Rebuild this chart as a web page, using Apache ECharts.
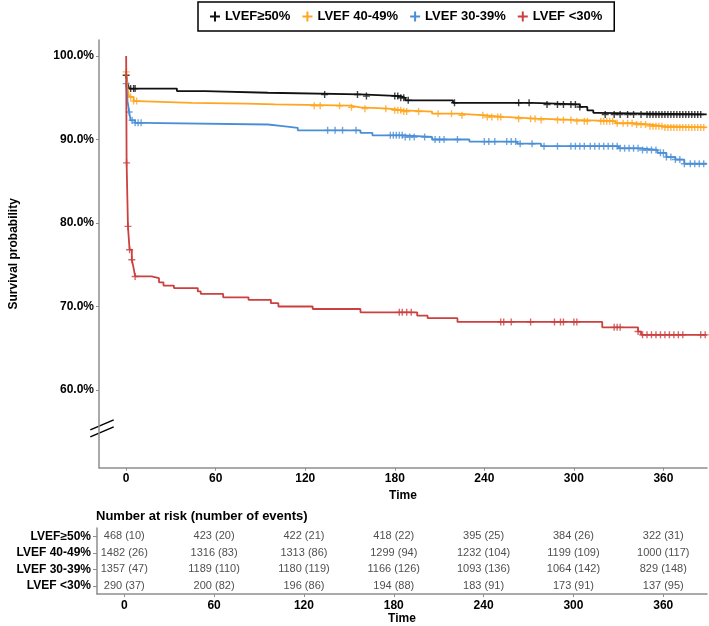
<!DOCTYPE html>
<html><head><meta charset="utf-8">
<script src="https://cdn.jsdelivr.net/npm/echarts@6/dist/echarts.min.js"></script>
<style>html,body{margin:0;padding:0;background:#fff}#c{width:709px;height:626px}</style>
</head><body><div id="c"></div>
<script>
// ---------- data ----------
const groups = ['LVEF≥50%', 'LVEF 40-49%', 'LVEF 30-39%', 'LVEF <30%'];
const colors = ['#111111', '#FFA51F', '#4A8FD6', '#CC4040'];
const xTicks = [0, 60, 120, 180, 240, 300, 360];
const yTicks = [60, 70, 80, 90, 100];
const endTime = 389;

// Kaplan-Meier step points (time in days, survival %)
const t50 = [0, 1, 2, 34, 53, 95, 157, 184, 187, 219, 272, 304, 309, 313, 316];
const s50 = [97.7, 96.6, 96.1, 95.8, 95.6, 95.4, 95.2, 95.0, 94.7, 94.4, 94.2, 93.9, 93.5, 93.2, 93.0];
const t40 = [0, 1, 2, 5, 8, 44, 80, 100, 150, 157, 176, 186, 205, 222, 241, 253, 275, 300, 328, 340, 350, 360];
const s40 = [98.1, 96.0, 95.1, 94.6, 94.4, 94.3, 94.2, 94.05, 93.85, 93.7, 93.5, 93.35, 93.1, 92.9, 92.7, 92.5, 92.35, 92.2, 91.95, 91.8, 91.6, 91.45];
const t30 = [0, 1, 2, 3, 6, 11, 95, 105, 115, 157, 165, 186, 205, 230, 262, 278, 330, 345, 356, 362, 368, 374];
const s30 = [96.7, 94.5, 93.3, 92.3, 92.0, 91.8, 91.6, 91.4, 91.1, 90.8, 90.5, 90.3, 90.0, 89.75, 89.5, 89.2, 88.95, 88.75, 88.4, 87.9, 87.6, 87.1];
const tLow = [0, 0.3, 1.2, 2.3, 3.8, 5, 6, 17, 22, 25, 32, 48, 50, 65, 82, 97, 102, 125, 157, 195, 202, 222, 319, 343, 345];
const sLow = [100, 87.2, 79.6, 76.8, 75.6, 74.6, 73.6, 73.4, 72.9, 72.5, 72.2, 71.8, 71.5, 71.1, 70.8, 70.4, 70.0, 69.7, 69.3, 68.9, 68.6, 68.15, 67.5, 67.0, 66.6];

// censoring times
const c50 = [0, 3, 5, 6, 133, 155, 161, 180, 182, 184, 186, 189, 220, 263, 270, 282, 289, 293, 298, 301, 304, 321, 327, 331, 336, 340, 345, 349, 351, 353, 355, 357, 359, 361, 363, 365, 367, 369, 371, 373, 375, 377, 379, 381, 383, 385];
const c40 = [0, 3, 5, 7, 126, 130, 143, 151, 160, 174, 180, 182, 184, 186, 188, 196, 209, 218, 225, 239, 242, 245, 249, 251, 263, 271, 274, 278, 289, 293, 298, 302, 307, 309, 318, 320, 322, 324, 326, 329, 333, 336, 339, 342, 345, 348, 351, 353, 355, 357, 359, 361, 363, 365, 367, 369, 371, 373, 375, 377, 379, 381, 383, 385, 387];
const c30 = [0, 2, 4, 6, 8, 10, 135, 140, 145, 154, 177, 179, 181, 183, 185, 187, 190, 193, 200, 207, 210, 213, 222, 240, 243, 247, 255, 258, 261, 264, 272, 280, 289, 298, 301, 304, 307, 311, 314, 317, 320, 323, 326, 329, 331, 334, 337, 340, 343, 346, 349, 352, 355, 358, 360, 362, 365, 368, 371, 374, 378, 381, 384, 387];
const cLow = [0.3, 1.2, 2.3, 3.8, 6, 183, 185, 188, 191, 251, 253, 258, 271, 287, 291, 293, 300, 302, 327, 329, 331, 343, 346, 349, 352, 355, 358, 361, 364, 367, 370, 373, 385, 388];

// number at risk table
const riskTimes = [0, 60, 120, 180, 240, 300, 360];
const risk50 = [468, 423, 422, 418, 395, 384, 322];
const ev50 = [10, 20, 21, 22, 25, 26, 31];
const risk40 = [1482, 1316, 1313, 1299, 1232, 1199, 1000];
const ev40 = [26, 83, 86, 94, 104, 109, 117];
const risk30 = [1357, 1189, 1180, 1166, 1093, 1064, 829];
const ev30 = [47, 110, 119, 126, 136, 142, 148];
const riskLow = [290, 200, 196, 194, 183, 173, 137];
const evLow = [37, 82, 86, 88, 91, 91, 95];

// ---------- build ----------
const stepT = [t50, t40, t30, tLow];
const stepS = [s50, s40, s30, sLow];
const cens = [c50, c40, c30, cLow];
const riskN = [risk50, risk40, risk30, riskLow];
const riskE = [ev50, ev40, ev30, evLow];

function survAt(g, t) {
  const T = stepT[g], S = stepS[g];
  let v = S[0];
  for (let i = 0; i < T.length; i++) { if (T[i] <= t) v = S[i]; else break; }
  return v;
}
const plusPath = 'path://M4,0H6V4H10V6H6V10H4V6H0V4H4Z';
const FONT = 'Liberation Sans, Arial, sans-serif';
const axisGray = '#8e8e8e';

const series = [];
groups.forEach((name, g) => {
  const pts = stepT[g].map((t, i) => [t, stepS[g][i]]);
  pts.push([endTime, stepS[g][stepS[g].length - 1]]);
  series.push({
    name, type: 'line', step: 'end', data: pts, showSymbol: false,
    xAxisIndex: 0, yAxisIndex: 0,
    lineStyle: { color: colors[g], width: 1.8 }, itemStyle: { color: colors[g] },
    z: 2 + g, animation: false, silent: true
  });
  series.push({
    name, type: 'scatter', data: cens[g].map(t => [t, survAt(g, t)]),
    xAxisIndex: 0, yAxisIndex: 0, symbol: plusPath, symbolSize: 7,
    itemStyle: { color: colors[g] }, z: 2 + g, animation: false, silent: true
  });
});
// risk table text
const tableData = [];
groups.forEach((name, g) => {
  riskTimes.forEach((t, i) => {
    tableData.push({ value: [t, g], label: { formatter: riskN[g][i] + ' (' + riskE[g][i] + ')' } });
  });
});
series.push({
  type: 'scatter', xAxisIndex: 1, yAxisIndex: 1, data: tableData, symbolSize: 0,
  label: { show: true, position: 'inside', color: '#222', fontSize: 11, fontFamily: FONT },
  animation: false, silent: true
});

const xMin = -18.2, xMax = 389.2;
const axisCommonX = {
  type: 'value', min: xMin, max: xMax,
  axisLine: { show: true, onZero: false, lineStyle: { color: axisGray, width: 1.5 } },
  axisTick: { show: true, length: 3, lineStyle: { color: axisGray, width: 1 }, customValues: xTicks },
  axisLabel: { customValues: xTicks, color: '#000', fontWeight: 'bold', fontSize: 12, fontFamily: FONT, margin: 5 },
  splitLine: { show: false },
  name: 'Time', nameLocation: 'middle', nameGap: 19,
  nameTextStyle: { color: '#000', fontWeight: 'bold', fontSize: 12, fontFamily: FONT }
};

const option = {
  backgroundColor: '#fff',
  animation: false,
  textStyle: { fontFamily: FONT },
  title: {
    text: 'Number at risk (number of events)', left: 96, top: 510, padding: 0,
    textStyle: { color: '#000', fontWeight: 'bold', fontSize: 13, fontFamily: FONT }
  },
  legend: {
    data: groups, left: 198, top: 2, padding: [8, 12], itemGap: 12,
    icon: plusPath, itemWidth: 10, itemHeight: 10,
    borderColor: '#000', borderWidth: 1.5, selectedMode: false,
    textStyle: { color: '#000', fontWeight: 'bold', fontSize: 13, fontFamily: FONT }
  },
  grid: [
    { left: 97, right: 2, top: 40, bottom: 158.3 },
    { left: 97, right: 2, top: 528, bottom: 32 }
  ],
  xAxis: [
    Object.assign({ gridIndex: 0 }, axisCommonX),
    Object.assign({ gridIndex: 1 }, axisCommonX, { axisLabel: Object.assign({}, axisCommonX.axisLabel, { margin: 6 }), nameGap: 18 })
  ],
  yAxis: [
    {
      gridIndex: 0, type: 'value', min: 50.69, max: 101.92,
      axisLine: { show: true, onZero: false, lineStyle: { color: axisGray, width: 1.5 } },
      axisTick: { show: true, length: 3, customValues: yTicks, lineStyle: { color: axisGray } },
      axisLabel: { customValues: yTicks, formatter: v => v.toFixed(1) + '%', color: '#000', fontWeight: 'bold', fontSize: 12, fontFamily: FONT, margin: 5 },
      splitLine: { show: false },
      name: 'Survival probability', nameLocation: 'middle', nameGap: 79, nameRotate: 90,
      nameTextStyle: { color: '#000', fontWeight: 'bold', fontSize: 12, fontFamily: FONT }
    },
    {
      gridIndex: 1, type: 'category', data: groups, inverse: true,
      axisLine: { show: true, onZero: false, lineStyle: { color: axisGray, width: 1.5 } },
      axisTick: { show: true, length: 4, alignWithLabel: true, lineStyle: { color: axisGray } },
      axisLabel: { color: '#000', fontWeight: 'bold', fontSize: 12, fontFamily: FONT, margin: 6 },
      splitLine: { show: false }
    }
  ],
  series
};

const chart = echarts.init(document.getElementById('c'), null, { renderer: 'canvas' });
chart.setOption(option);

// axis-break marker near the bottom of the survival axis
const brk = chart.convertToPixel({ gridIndex: 0 }, [xMin, 55.4]);
const bx = brk[0] + 3, by = brk[1];
chart.setOption({
  graphic: [
    { type: 'line', shape: { x1: bx - 11.7, y1: by + 1.5, x2: bx + 11.7, y2: by - 8.5 }, style: { stroke: '#000', lineWidth: 1.5 } },
    { type: 'line', shape: { x1: bx - 11.7, y1: by + 8.5, x2: bx + 11.7, y2: by - 1.5 }, style: { stroke: '#000', lineWidth: 1.5 } }
  ]
});
</script></body></html>
